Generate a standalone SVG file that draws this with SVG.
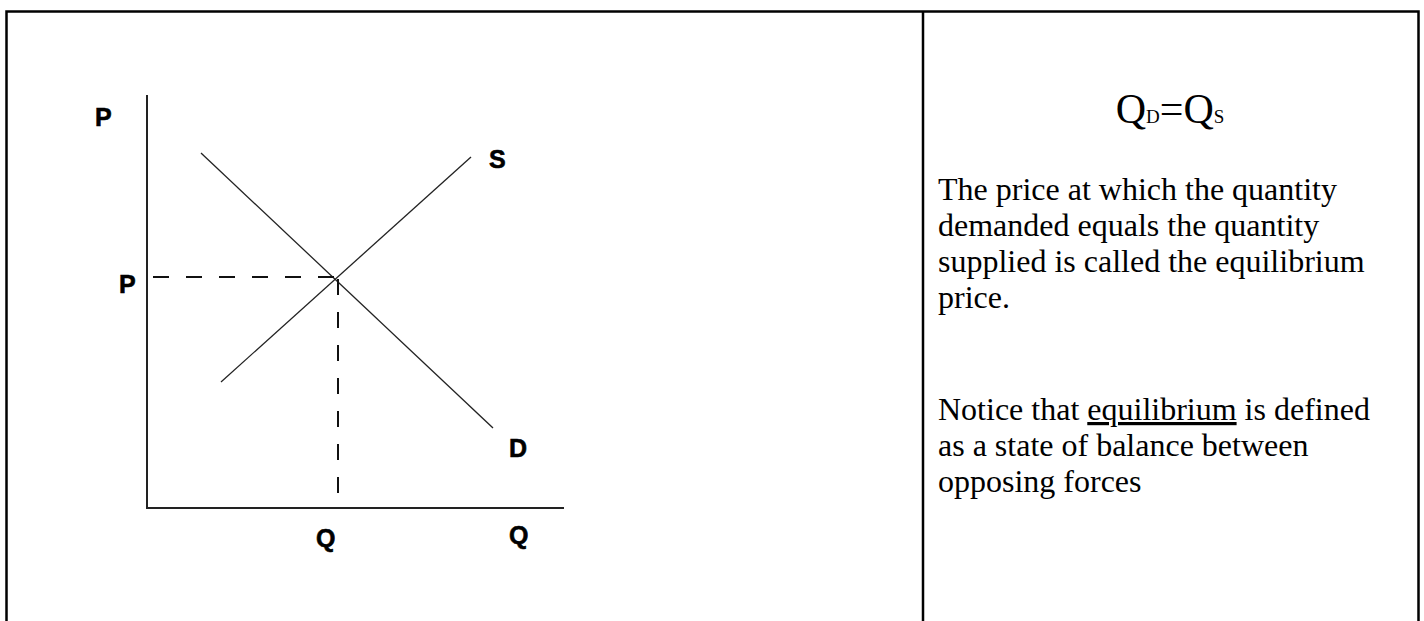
<svg xmlns="http://www.w3.org/2000/svg" width="1424" height="621" viewBox="0 0 1424 621">
<style>
.frame{fill:none;stroke:#000;stroke-width:2.5}
.axis{stroke:#222;stroke-width:2;fill:none}
.curve{stroke:#222;stroke-width:1.3;fill:none}
.dash{stroke:#111;stroke-width:2;stroke-dasharray:16,17;fill:none}
.lbl{font-family:"Liberation Sans",Arial,sans-serif;font-weight:bold;font-size:25px;fill:#000;stroke:#000;stroke-width:0.6}
.body{font-family:"Liberation Serif","Times New Roman",serif;font-size:32px;fill:#000}
.eq{font-family:"Liberation Serif","Times New Roman",serif;fill:#000}
</style>
<rect width="1424" height="621" fill="#fff"/>
<g id="frame">
<path class="frame" d="M6.5,640 V11.5 H1418.5 V640"/>
<line class="frame" x1="923" y1="11.5" x2="923" y2="640"/>
</g>
<g id="axes">
<polyline class="axis" points="147,95 147,508 564,508"/>
</g>
<g id="connectors">
<line id="demand" class="curve" x1="201" y1="153" x2="493" y2="428"/>
<line id="supply" class="curve" x1="221" y1="382" x2="471" y2="157"/>
<line class="dash" x1="147" y1="277" x2="337" y2="277" style="stroke-dashoffset:-6"/>
<line class="dash" x1="338" y1="277" x2="338" y2="508" style="stroke-dashoffset:-2"/>
</g>
<g id="labels">
<text class="lbl" x="95" y="126">P</text>
<text class="lbl" x="119" y="293">P</text>
<text class="lbl" x="489" y="168">S</text>
<text class="lbl" x="509" y="457">D</text>
<text class="lbl" x="316" y="547">Q</text>
<text class="lbl" x="509" y="544">Q</text>
</g>
<g id="equation">
<text class="eq" x="1170" y="123" text-anchor="middle" font-size="42">Q<tspan font-size="19">D</tspan>=Q<tspan font-size="19">S</tspan></text>
</g>
<g id="description">
<text class="body" x="938" y="200">The price at which the quantity</text>
<text class="body" x="938" y="236">demanded equals the quantity</text>
<text class="body" x="938" y="272">supplied is called the equilibrium</text>
<text class="body" x="938" y="308">price.</text>
<text class="body" x="938" y="420">Notice that <tspan style="text-decoration:underline">equilibrium</tspan> is defined</text>
<text class="body" x="938" y="456">as a state of balance between</text>
<text class="body" x="938" y="492">opposing forces</text>
</g>
</svg>
